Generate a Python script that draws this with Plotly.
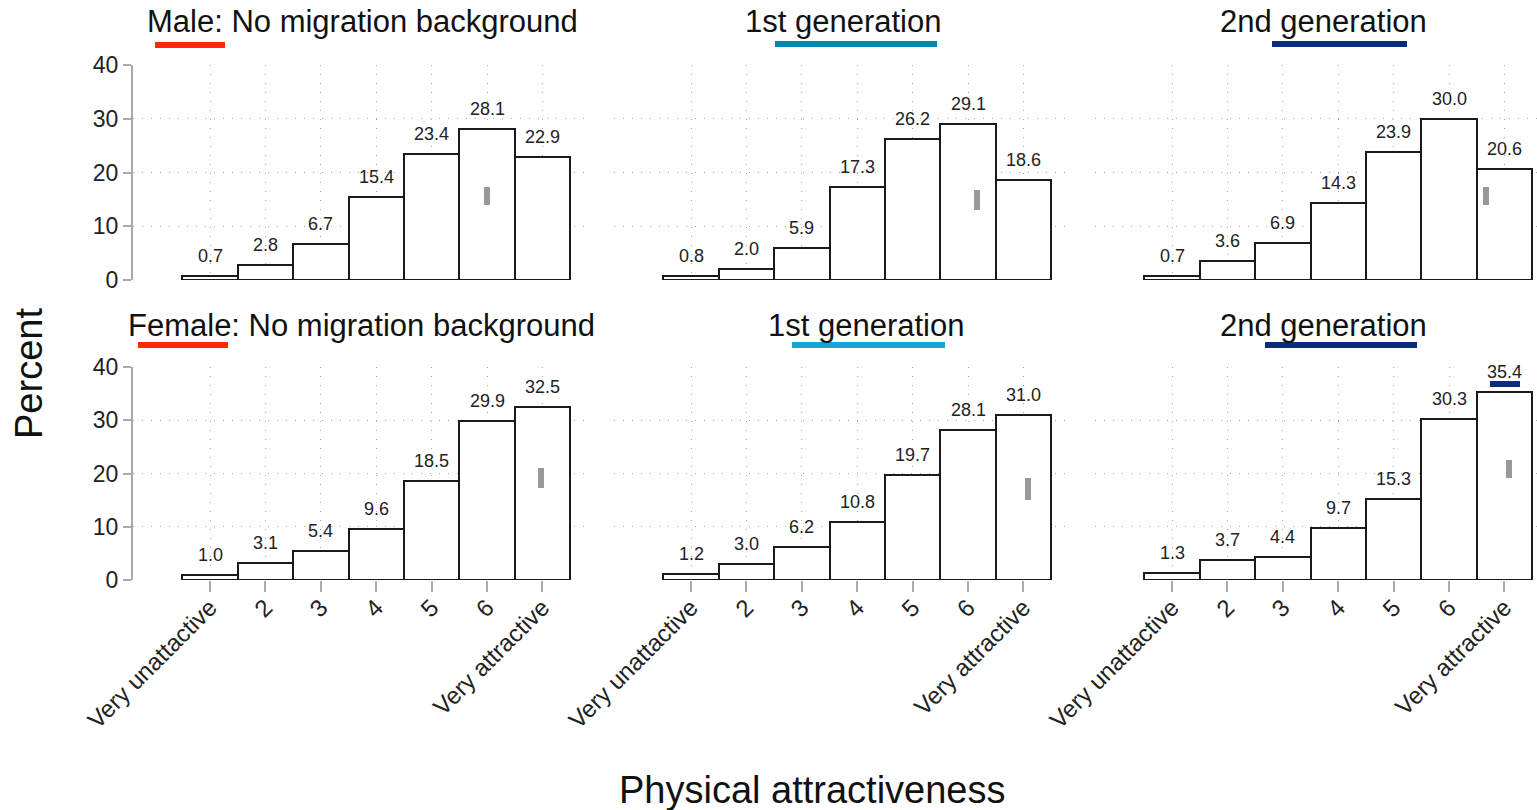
import plotly.graph_objects as go

# ---- data ----
categories = [1, 2, 3, 4, 5, 6, 7]
tick_labels = ["Very unattactive", "2", "3", "4", "5", "6", "Very attractive"]
male_none = [0.7, 2.8, 6.7, 15.4, 23.4, 28.1, 22.9]
male_1st = [0.8, 2.0, 5.9, 17.3, 26.2, 29.1, 18.6]
male_2nd = [0.7, 3.6, 6.9, 14.3, 23.9, 30.0, 20.6]
female_none = [1.0, 3.1, 5.4, 9.6, 18.5, 29.9, 32.5]
female_1st = [1.2, 3.0, 6.2, 10.8, 19.7, 28.1, 31.0]
female_2nd = [1.3, 3.7, 4.4, 9.7, 15.3, 30.3, 35.4]
panel_titles = ["Male: No migration background", "1st generation", "2nd generation",
                "Female: No migration background", "1st generation", "2nd generation"]
y_ticks = [0, 10, 20, 30, 40]

W, H = 1537, 810
FONT = "Liberation Sans, Arial, sans-serif"

def px(x):
    return x / W

def py(y):
    return 1 - y / H

# layout geometry (pixels)
col_c1 = [210, 691, 1172]        # pixel position of category 1 in each column
step = 55.4                       # pixels per category
col_dom = [(133, 590), (614, 1071), (1095, 1537)]
row_dom = [(65, 280), (367, 580)]  # pixel y of 40 and 0

series = [male_none, male_1st, male_2nd, female_none, female_1st, female_2nd]
GRID = dict(showgrid=True, gridcolor="#a8a8a8", griddash="1px,8px", gridwidth=1)

fig = go.Figure()
layout = {}
annotations = []
for i, vals in enumerate(series):
    r, c = divmod(i, 3)
    n = i + 1
    xa = "x" if n == 1 else f"x{n}"
    ya = "y" if n == 1 else f"y{n}"
    fig.add_trace(go.Bar(
        x=categories, y=vals, xaxis=xa, yaxis=ya, width=1.0,
        marker=dict(color="white", line=dict(color="#1a1a1a", width=2)),
        cliponaxis=False, showlegend=False, hoverinfo="x+y"))
    for xv, yv in zip(categories, vals):
        annotations.append(dict(text=f"{yv:.1f}", x=xv, y=yv, xref=xa, yref=ya,
                                showarrow=False, xanchor="center", yanchor="bottom",
                                yshift=8, font=dict(size=18, color="#222", family=FONT)))
    L, R = col_dom[c]
    T, B = row_dom[r]
    xr = [1 - (col_c1[c] - L) / step, 1 + (R - col_c1[c]) / step]
    xkey = "xaxis" if n == 1 else f"xaxis{n}"
    ykey = "yaxis" if n == 1 else f"yaxis{n}"
    layout[xkey] = dict(
        domain=[px(L), px(R)], range=xr, anchor=ya, automargin=False,
        tickvals=categories, ticktext=tick_labels if r == 1 else [""] * 7,
        showticklabels=(r == 1), ticks="outside" if r == 1 else "",
        ticklen=11, tickcolor="#aaa", tickwidth=2, tickangle=-45,
        ticklabelstandoff=-8,
        tickfont=dict(size=24, color="#222", family=FONT),
        showline=False, zeroline=False, **GRID)
    layout[ykey] = dict(
        domain=[py(B), py(T)], range=[0, 40], anchor=xa, automargin=False,
        tickvals=y_ticks, showticklabels=(c == 0),
        ticks="outside" if c == 0 else "", ticklen=8, tickcolor="#aaa", tickwidth=2,
        tickfont=dict(size=23, color="#222", family=FONT),
        showline=(c == 0), linecolor="#aaa", linewidth=2,
        zeroline=False, **GRID)

fig.update_layout(**layout)

title_pos = [(362, 22), (843, 22), (1323, 22), (361, 325), (866, 325), (1323, 325)]
for t, (x, y) in zip(panel_titles, title_pos):
    annotations.append(dict(text=t, x=px(x), y=py(y), xref="paper", yref="paper",
                            showarrow=False, xanchor="center", yanchor="middle",
                            font=dict(size=31, color="#111", family=FONT)))
annotations.append(dict(text="Percent", x=px(29), y=py(374), xref="paper", yref="paper",
                        showarrow=False, textangle=-90, xanchor="center", yanchor="middle",
                        font=dict(size=38, color="#111", family=FONT)))
annotations.append(dict(text="Physical attractiveness", x=px(812), y=py(790), xref="paper", yref="paper",
                        showarrow=False, xanchor="center", yanchor="middle",
                        font=dict(size=38, color="#111", family=FONT)))

shapes = []
# coloured underlines (decoration)
underlines = [
    (155, 225, 45, "#ff2a00"), (775, 937, 44, "#0088b0"), (1272, 1407, 44, "#0b2b7d"),
    (138, 228, 345, "#ff2a00"), (792, 945, 345, "#1aa3d9"), (1265, 1417, 345, "#0b2b7d"),
    (1490, 1520, 384, "#0b2b7d"),
]
for x0, x1, y, col in underlines:
    shapes.append(dict(type="rect", xref="paper", yref="paper",
                       x0=px(x0), x1=px(x1), y0=py(y + 3), y1=py(y - 3),
                       fillcolor=col, line=dict(width=0), layer="above"))
# small grey marks inside bars (decoration)
marks = [(487, 187, 205), (977, 190, 210), (1486, 187, 205),
         (541, 468, 488), (1028, 478, 500), (1509, 460, 478)]
for x, y0, y1 in marks:
    shapes.append(dict(type="rect", xref="paper", yref="paper",
                       x0=px(x - 3), x1=px(x + 3), y0=py(y1), y1=py(y0),
                       fillcolor="#999", line=dict(width=0), layer="above"))

fig.update_layout(
    width=W, height=H, margin=dict(l=0, r=0, t=0, b=0, autoexpand=False),
    paper_bgcolor="white", plot_bgcolor="white",
    annotations=annotations, shapes=shapes, bargap=0,
    font=dict(family=FONT))

fig.write_html("out.html", config={"displayModeBar": False},
               post_script="document.body.style.margin='0';document.body.style.overflow='hidden';")
